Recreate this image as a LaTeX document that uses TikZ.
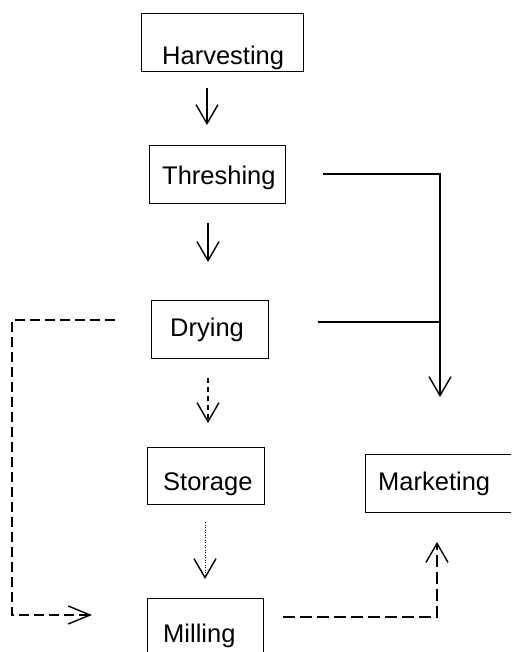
\documentclass[tikz,border=0pt]{standalone}
\usepackage{fontspec}
\setmainfont{Liberation Sans}
\usetikzlibrary{arrows.meta}
\tikzset{
  stagebox/.style={draw, line width=1.3pt, inner sep=0pt, anchor=north west},
  lbl/.style={inner sep=0pt, anchor=base west, font=\fontsize{25.5}{30}\selectfont},
  flow/.style={line width=1.4pt, -{Straight Barb[length=19pt,width=22pt,line width=1.4pt]}},
  sidearrow/.style={line width=1.4pt, -{Straight Barb[length=22pt,width=18pt,line width=1.4pt]}},
  plainline/.style={line width=1.4pt},
}
\begin{document}
\begin{tikzpicture}[x=1pt,y=-1pt]
\useasboundingbox (0,0) rectangle (511,652);
\clip (0,0) rectangle (511,652);

% stage boxes (Marketing and Milling run past the page edge)
\node[stagebox, minimum width=162pt, minimum height=58pt] (harv) at (141,13) {};
\node[stagebox, minimum width=136pt, minimum height=58pt] (thr)  at (149,145) {};
\node[stagebox, minimum width=117pt, minimum height=58pt] (dry)  at (151,300) {};
\node[stagebox, minimum width=117pt, minimum height=57pt] (sto)  at (147,447) {};
\node[stagebox, minimum width=160pt, minimum height=58pt] (mkt)  at (365,454) {};
\node[stagebox, minimum width=116pt, minimum height=70pt] (mil)  at (147,598) {};

% labels
\node[lbl] (harvtxt) at (162,65)  {Harvesting};
\node[lbl] (thrtxt)  at (162,185) {Threshing};
\node[lbl] (drytxt)  at (170,336) {Drying};
\node[lbl] (stotxt)  at (163,490) {Storage};
\node[lbl] (mkttxt)  at (378,490) {Marketing};
\node[lbl] (miltxt)  at (163,642) {Milling};

% connector end points
\coordinate (h1) at (207,88);   \coordinate (h2) at (207,125);
\coordinate (t1) at (208,223);  \coordinate (t2) at (208,262);
\coordinate (d1) at (208,378);  \coordinate (d2) at (208,423);
\coordinate (s1) at (205,522);  \coordinate (s2) at (205,579);
\coordinate (tr) at (323,174);  \coordinate (tc) at (440,174);
\coordinate (mt) at (440,397);
\coordinate (dr) at (318,322);  \coordinate (dj) at (440,322);
\coordinate (dl) at (115,320);  \coordinate (lc) at (12,320);
\coordinate (lb) at (12,615);   \coordinate (lt) at (92,615);
\coordinate (mr) at (283,617);  \coordinate (mc) at (437,617);
\coordinate (mb) at (437,542);

% main chain
\draw[flow] (h1) -- (h2);
\draw[flow] (t1) -- (t2);
\draw[flow, dash pattern=on 5pt off 4pt] (d1) -- (d2);
\draw[flow, dash pattern=on 1pt off 1.5pt, line width=0.9pt] (s1) -- (s2);

% threshing and drying to marketing
\draw[flow] (tr) -- (tc) -- (mt);
\draw[plainline] (dr) -- (dj);

% drying bypass to milling
\draw[sidearrow, dash pattern=on 10pt off 5pt] (dl) -- (lc) -- (lb) -- (lt);

% milling to marketing
\draw[flow, dash pattern=on 12pt off 5pt] (mr) -- (mc) -- (mb);
\end{tikzpicture}
\end{document}
